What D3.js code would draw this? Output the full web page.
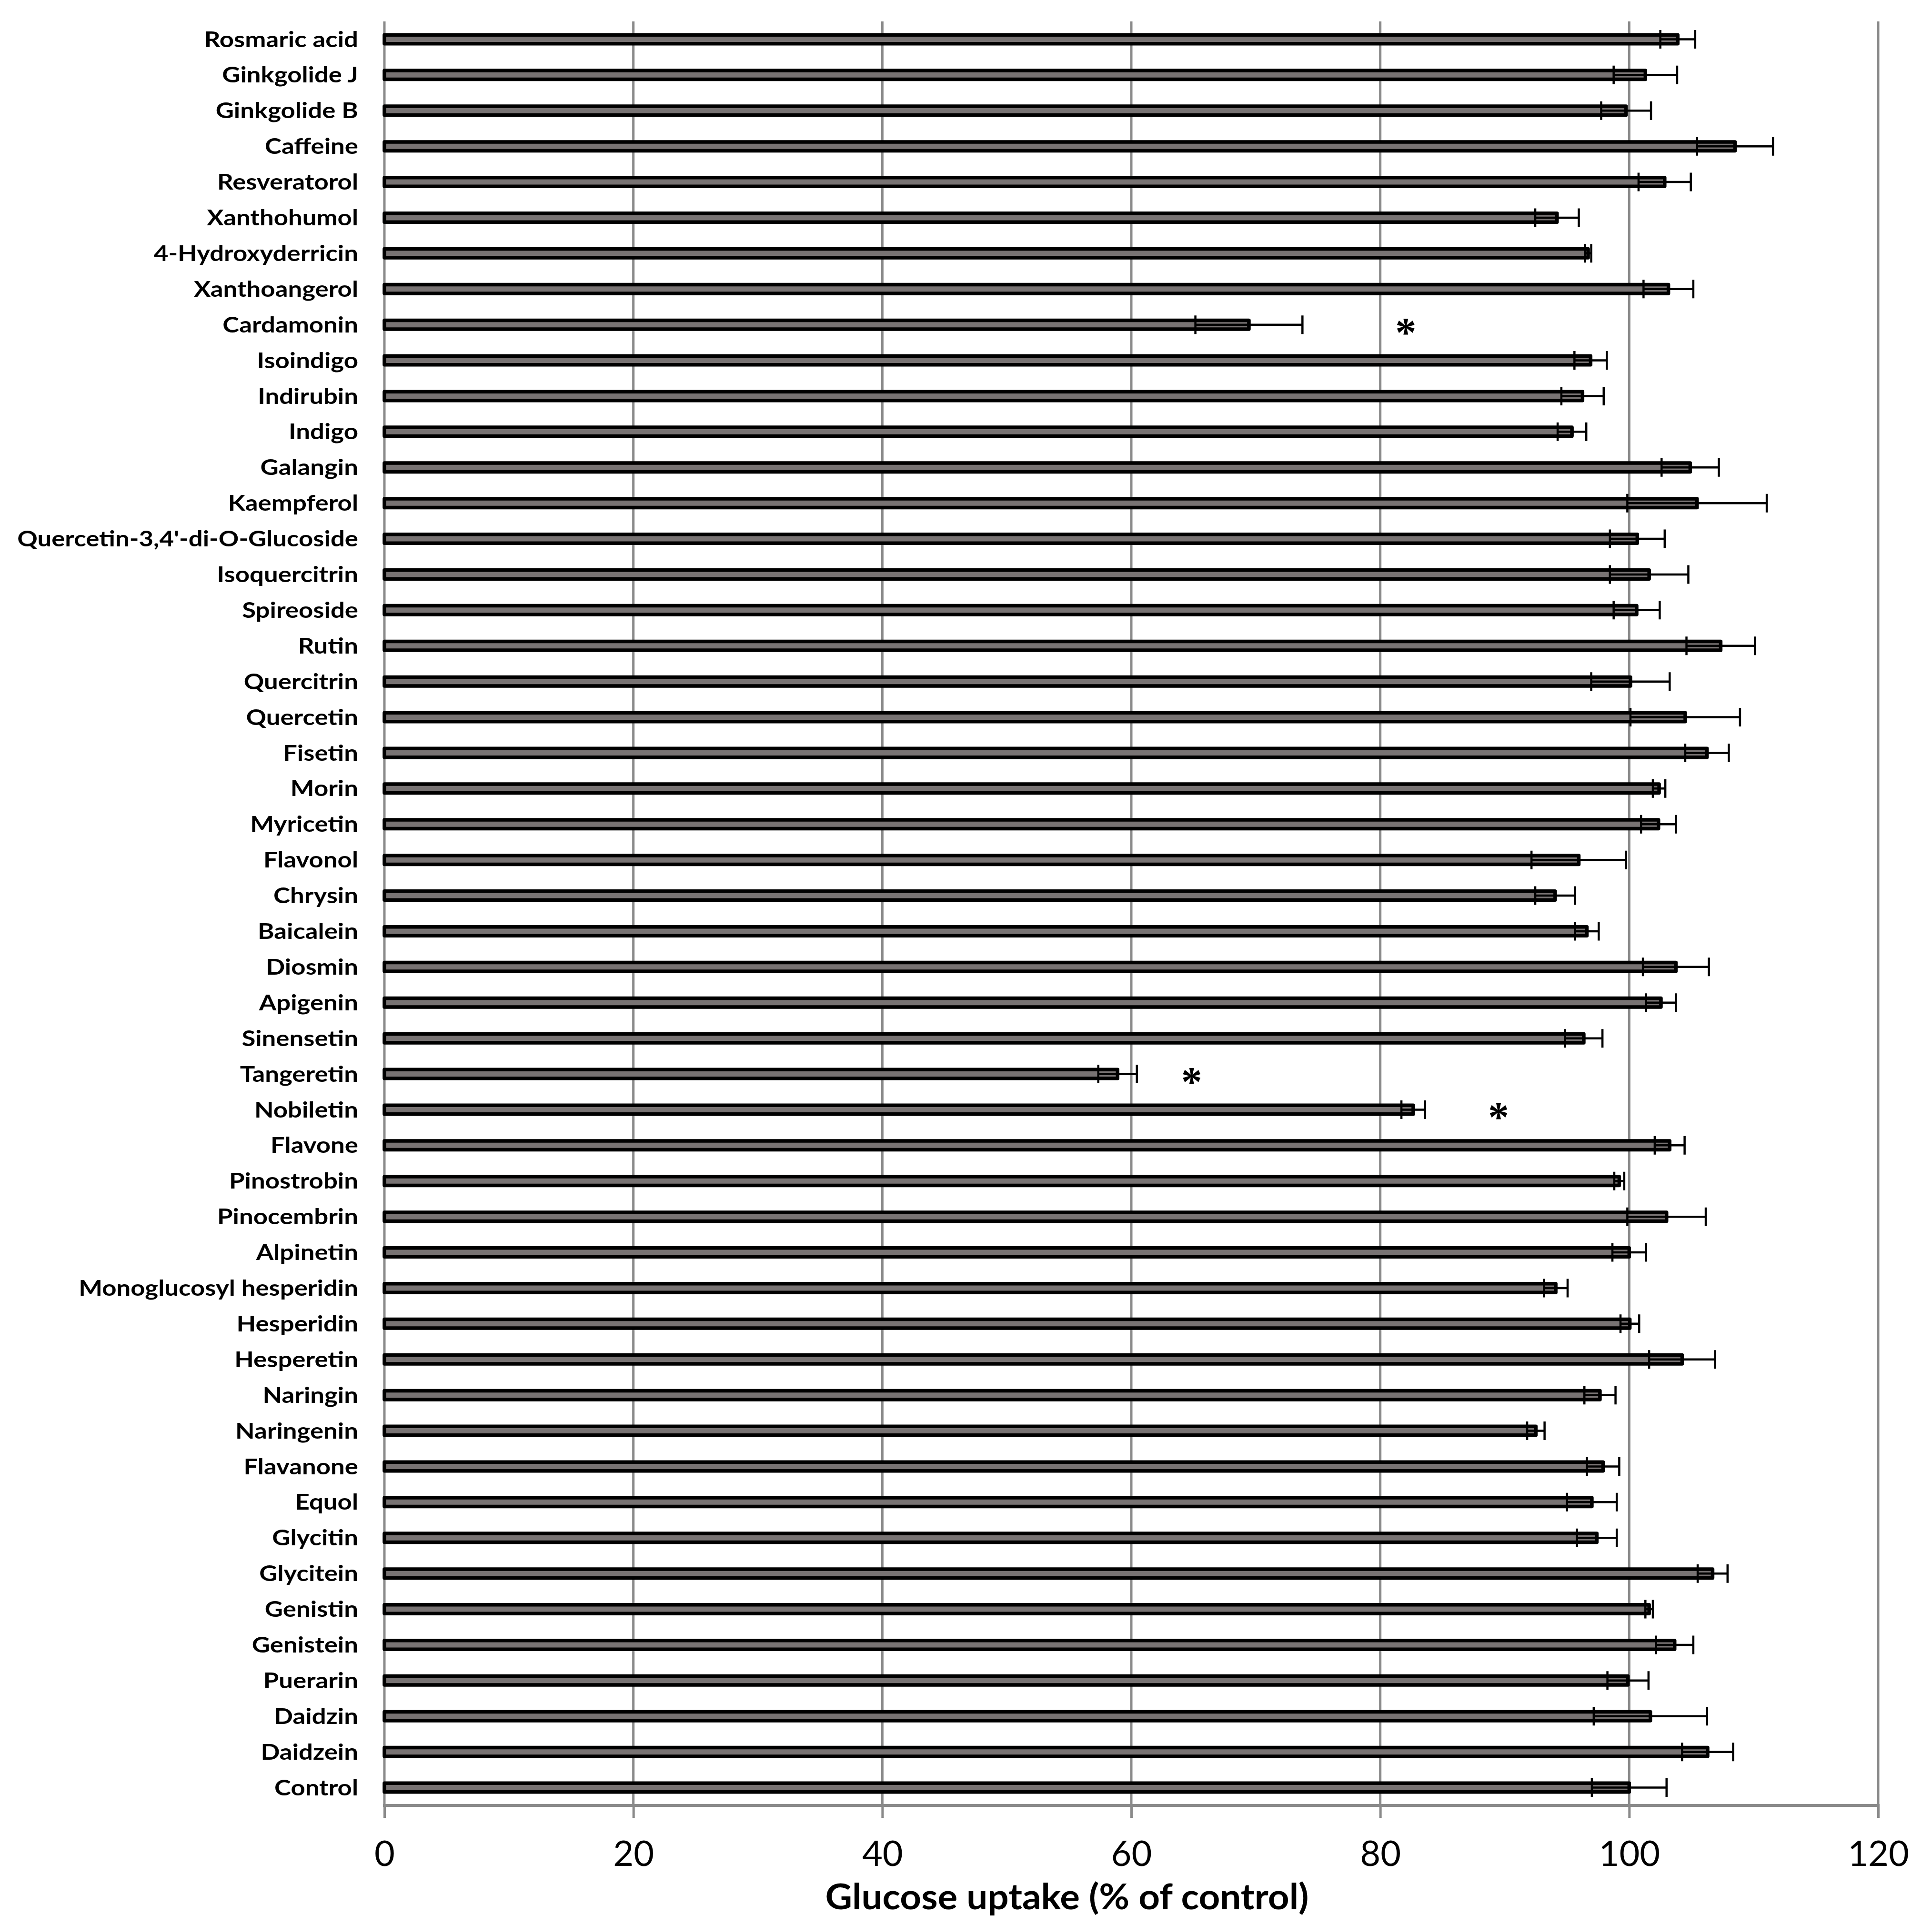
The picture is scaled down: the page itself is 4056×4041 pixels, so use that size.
<!DOCTYPE html>
<html>
<head>
<meta charset="utf-8">
<script src="https://cdn.jsdelivr.net/npm/d3@7/dist/d3.min.js"></script>
<style>
  html, body { margin: 0; padding: 0; background: #fff; }
  svg { display: block; }
</style>
</head>
<body>
<script>
// ---- data (top to bottom as displayed) ----
const categories = [
  "Rosmaric acid","Ginkgolide J","Ginkgolide B","Caffeine","Resveratorol","Xanthohumol",
  "4-Hydroxyderricin","Xanthoangerol","Cardamonin","Isoindigo","Indirubin","Indigo",
  "Galangin","Kaempferol","Quercetin-3,4'-di-O-Glucoside","Isoquercitrin","Spireoside",
  "Rutin","Quercitrin","Quercetin","Fisetin","Morin","Myricetin","Flavonol","Chrysin",
  "Baicalein","Diosmin","Apigenin","Sinensetin","Tangeretin","Nobiletin","Flavone",
  "Pinostrobin","Pinocembrin","Alpinetin","Monoglucosyl hesperidin","Hesperidin",
  "Hesperetin","Naringin","Naringenin","Flavanone","Equol","Glycitin","Glycitein",
  "Genistin","Genistein","Puerarin","Daidzin","Daidzein","Control"
];
const uptake = [
  103.9, 101.3, 99.75, 108.5, 102.85, 94.2,
  96.7, 103.15, 69.45, 96.9, 96.25, 95.4,
  104.9, 105.45, 100.65, 101.6, 100.6,
  107.35, 100.1, 104.5, 106.25, 102.4, 102.35, 95.95, 94.05,
  96.6, 103.75, 102.55, 96.35, 58.9, 82.65, 103.25,
  99.2, 103.0, 100.0, 94.1, 100.05,
  104.25, 97.65, 92.5, 97.9, 97.0, 97.4, 106.7,
  101.6, 103.65, 99.9, 101.7, 106.3, 100.0
];
const errors = [
  1.4, 2.55, 2.0, 3.05, 2.1, 1.75,
  0.25, 2.0, 4.3, 1.3, 1.7, 1.15,
  2.3, 5.6, 2.2, 3.15, 1.85,
  2.75, 3.15, 4.4, 1.75, 0.5, 1.4, 3.8, 1.6,
  0.95, 2.65, 1.2, 1.5, 1.55, 0.95, 1.2,
  0.4, 3.15, 1.35, 0.95, 0.75,
  2.65, 1.25, 0.7, 1.3, 2.0, 1.6, 1.2,
  0.3, 1.5, 1.65, 4.55, 2.05, 3.0
];
const sigCategories = ["Cardamonin", "Tangeretin", "Nobiletin"];
const sigPositions = [82.05, 64.85, 89.5];
const xTicks = [0, 20, 40, 60, 80, 100, 120];
const xTitle = "Glucose uptake (% of control)";

// ---- layout ----
const W = 4056, H = 4041;
const plotL = 807, plotR = 3943, plotT = 45, plotB = 3790;

const svg = d3.select("body").append("svg")
  .attr("width", W).attr("height", H)
  .attr("viewBox", `0 0 ${W} ${H}`);
svg.append("rect").attr("width", W).attr("height", H).attr("fill", "#fff");

const x = d3.scaleLinear().domain([0, 120]).range([plotL, plotR]);
const y = d3.scaleBand().domain(categories).range([plotT, plotB]).padding(0);
const cy = c => y(c) + y.bandwidth() / 2;

const data = categories.map((c, i) => ({ c, v: uptake[i], e: errors[i] }));

// gridlines (incl. y-axis line at 0)
svg.append("g").selectAll("line").data(xTicks).join("line")
  .attr("x1", d => x(d)).attr("x2", d => x(d))
  .attr("y1", plotT).attr("y2", plotB)
  .attr("stroke", "#8a8a8a").attr("stroke-width", 5);

// bottom axis
const xAxis = d3.axisBottom(x).tickValues(xTicks).tickSize(26).tickPadding(0).tickFormat(d3.format("d"));
const ax = svg.append("g").attr("transform", `translate(0,${plotB})`).call(xAxis);
ax.select(".domain").attr("stroke", "#8a8a8a").attr("stroke-width", 6)
  .attr("d", `M${plotL - 3},0H${plotR + 3}`);
ax.selectAll(".tick line").attr("stroke", "#8a8a8a").attr("stroke-width", 5);
ax.selectAll(".tick text")
  .attr("y", 0).attr("dy", 0)
  .attr("transform", `translate(0,${3917 - plotB})`)
  .attr("font-family", "Lato, 'Open Sans', sans-serif")
  .attr("font-size", 74).attr("fill", "#000");

// bars
const barH = 18.5, barStroke = 7.5;
svg.append("g").selectAll("rect").data(data).join("rect")
  .attr("x", x(0))
  .attr("y", d => cy(d.c) - barH / 2)
  .attr("width", d => x(d.v) - x(0))
  .attr("height", barH)
  .attr("fill", "#787373")
  .attr("stroke", "#000")
  .attr("stroke-width", barStroke)
  .attr("stroke-linejoin", "round");

// error bars
const capHalf = 19.5;
const eg = svg.append("g").attr("stroke", "#000").attr("stroke-width", 4.5).attr("fill", "none");
eg.selectAll("path").data(data).join("path")
  .attr("d", d => {
    const yc = cy(d.c), x1 = x(d.v - d.e), x2 = x(d.v + d.e);
    return `M${x1},${yc}H${x2}M${x1},${yc - capHalf}V${yc + capHalf}M${x2},${yc - capHalf}V${yc + capHalf}`;
  });

// significance asterisks
svg.append("g").selectAll("text").data(sigCategories).join("text")
  .attr("x", (d, i) => x(sigPositions[i]))
  .attr("y", d => cy(d) + 5 + 40)
  .attr("text-anchor", "middle")
  .attr("font-family", "'Liberation Serif', 'DejaVu Serif', serif")
  .attr("font-weight", "bold")
  .attr("font-size", 88)
  .attr("fill", "#000")
  .text("*");

// category labels
const lblFont = 45;
const lg = svg.append("g");
const labels = lg.selectAll("text").data(categories).join("text")
  .attr("text-anchor", "end")
  .attr("font-family", "Lato, 'Open Sans', sans-serif")
  .attr("font-weight", "bold")
  .attr("font-size", lblFont)
  .attr("fill", "#000")
  .text(d => d);
let maxW = 0;
labels.each(function () { maxW = Math.max(maxW, this.getComputedTextLength()); });
const kx = maxW > 0 ? 716 / maxW : 1;
labels.attr("transform", d => `translate(752,${cy(d) + 0.358 * lblFont}) scale(${kx},1)`);

// x-axis title
const title = svg.append("text")
  .attr("text-anchor", "middle")
  .attr("font-family", "Lato, 'Open Sans', sans-serif")
  .attr("font-weight", "bold")
  .attr("font-size", 74)
  .attr("fill", "#000")
  .text(xTitle);
const tw = title.node().getComputedTextLength();
const tk = tw > 0 ? 1015 / tw : 1;
title.attr("transform", `translate(2240,4008) scale(${tk},1)`);
</script>
</body>
</html>
